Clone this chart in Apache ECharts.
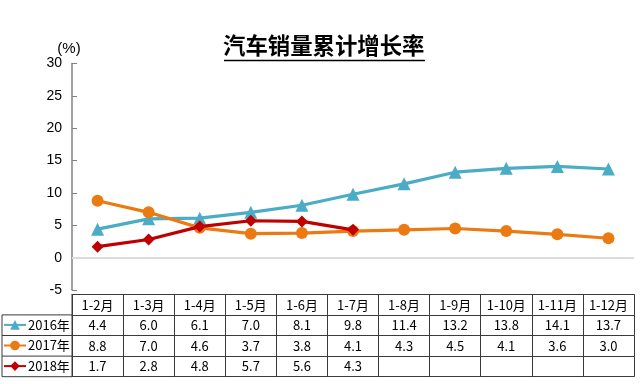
<!DOCTYPE html>
<html>
<head>
<meta charset="utf-8">
<script src="https://cdn.jsdelivr.net/npm/echarts@6/dist/echarts.min.js"></script>
<style>html,body{margin:0;padding:0;background:#fff}#c{width:640px;height:384px}</style>
</head>
<body>
<div id="c"></div>
<script>
const categories = ['1-2月','1-3月','1-4月','1-5月','1-6月','1-7月','1-8月','1-9月','1-10月','1-11月','1-12月'];
const seriesNames = ['2016年','2017年','2018年'];
const v2016 = [4.4, 6.0, 6.1, 7.0, 8.1, 9.8, 11.4, 13.2, 13.8, 14.1, 13.7];
const v2017 = [8.8, 7.0, 4.6, 3.7, 3.8, 4.1, 4.3, 4.5, 4.1, 3.6, 3.0];
const v2018 = [1.7, 2.8, 4.8, 5.7, 5.6, 4.3, null, null, null, null, null];
const yTicks = {min: -5, max: 30, interval: 5};

const colors = ['#4bacc6', '#ec7a12', '#c00000'];
const symbols = ['triangle', 'circle', 'diamond'];
const allVals = [v2016, v2017, v2018];

const GL = 72, GR = 634, GT = 63.5, GB = 290;
const tableTop = 294.3, rowH = 20.6;
const tableFont = '"Noto Sans CJK SC", sans-serif';
const lineColor = '#3a3a3a';

function fmt(v) { return (v === null || v === undefined) ? '' : v.toFixed(1); }

const xAxes = [];
for (let r = 0; r <= 4; r++) {
  const vals = r === 0 ? null : allVals[r - 1];
  xAxes.push({
    type: 'category',
    data: categories,
    position: 'bottom',
    offset: (tableTop - GB) + r * rowH,
    boundaryGap: true,
    axisLine: {show: true, onZero: false, lineStyle: {color: lineColor, width: 1}},
    axisTick: {show: r < 4, interval: 0, length: rowH, inside: false, lineStyle: {color: lineColor, width: 1}},
    axisLabel: {
      show: r < 4,
      interval: 0,
      margin: rowH / 2,
      verticalAlign: 'middle',
      fontSize: 13,
      color: '#000',
      fontFamily: tableFont,
      formatter: (v, i) => r === 0 ? v : fmt(vals[i])
    },
    splitLine: {show: false}
  });
}

const series = allVals.map((vals, i) => ({
  name: seriesNames[i],
  type: 'line',
  xAxisIndex: 0,
  data: vals,
  symbol: symbols[i],
  symbolSize: i === 0 ? 13 : 12,
  lineStyle: {width: 3.2, color: colors[i]},
  itemStyle: {color: colors[i]},
  z: 3 + i,
  markLine: i === 0 ? {
    silent: true, symbol: 'none', label: {show: false},
    lineStyle: {color: '#dcdcdc', width: 2, type: 'solid'},
    data: [{yAxis: 0}], z: 1
  } : undefined
}));

const chart = echarts.init(document.getElementById('c'), null, {renderer: 'canvas'});
const leftLines = [];
for (let r = 1; r <= 4; r++) {
  const y = tableTop + r * rowH;
  leftLines.push({type: 'line', shape: {x1: 2, y1: y, x2: GL, y2: y}, style: {stroke: lineColor, lineWidth: 1}});
}
leftLines.push({type: 'line', shape: {x1: 2, y1: tableTop + rowH, x2: 2, y2: tableTop + 4 * rowH}, style: {stroke: lineColor, lineWidth: 1}});
leftLines.push({type: 'line', shape: {x1: GL, y1: tableTop, x2: GL, y2: tableTop + 4 * rowH}, style: {stroke: lineColor, lineWidth: 1}});
leftLines.push({type: 'line', shape: {x1: 224, y1: 60.5, x2: 425, y2: 60.5}, style: {stroke: '#000', lineWidth: 1.6}});

chart.setOption({
  animation: false,
  color: colors,
  title: {
    text: '汽车销量累计增长率',
    left: 223,
    top: 34,
    padding: 0,
    textStyle: {fontSize: 22.4, fontWeight: 'bold', color: '#000', fontFamily: '"Noto Sans CJK SC", sans-serif'}
  },
  legend: {
    orient: 'vertical',
    left: 3,
    top: tableTop + rowH + 3,
    itemWidth: 22,
    itemHeight: 12,
    itemGap: rowH - 14,
    padding: 0,
    data: seriesNames,
    textStyle: {fontSize: 13, color: '#000', fontFamily: tableFont, lineHeight: 14, padding: [0, 0, 0, -3]}
  },
  grid: {left: GL, right: 640 - GR, top: GT, bottom: 384 - GB, containLabel: false},
  xAxis: xAxes,
  yAxis: {
    type: 'value',
    min: yTicks.min, max: yTicks.max, interval: yTicks.interval,
    name: '(%)',
    nameLocation: 'end',
    nameGap: 4,
    nameTextStyle: {fontSize: 15, color: '#000', fontFamily: 'Liberation Sans, Arial, sans-serif', align: 'center', padding: [0, 6, 0, 0]},
    axisLine: {show: true, lineStyle: {color: '#808080', width: 1.5}},
    axisTick: {show: true, inside: true, length: 5, lineStyle: {color: '#808080'}},
    axisLabel: {fontSize: 14, color: '#000', margin: 10, fontFamily: 'Liberation Sans, Arial, sans-serif'},
    splitLine: {show: false}
  },
  series: series,
  graphic: leftLines
});
</script>
</body>
</html>
